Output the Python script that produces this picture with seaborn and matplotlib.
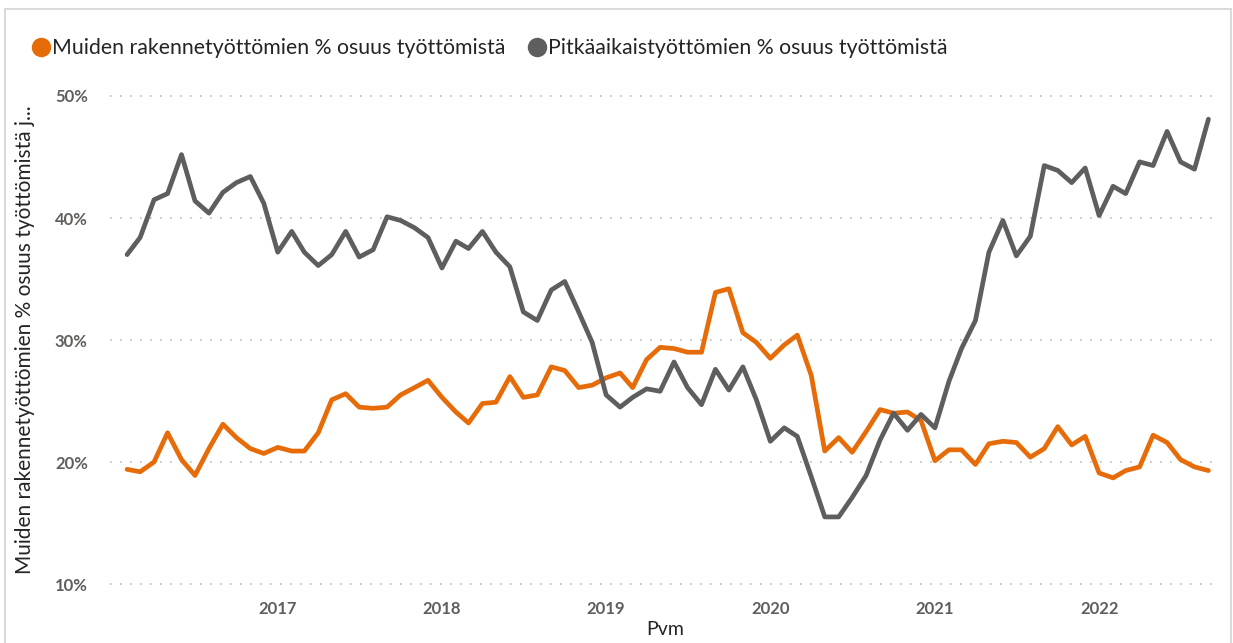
import seaborn as sns
import pandas as pd
import numpy as np
import matplotlib.pyplot as plt
import matplotlib.dates as mdates
from matplotlib.patches import Rectangle
from matplotlib.lines import Line2D
from matplotlib.ticker import FuncFormatter

# Kuukausittaiset arvot, helmikuu 2016 - syyskuu 2022
months = pd.date_range("2016-02-01", "2022-09-01", freq="MS")

muiden = [19.4, 19.2, 20.0, 22.4, 20.2, 18.9, 21.1, 23.1, 22.0, 21.1,
          20.7, 21.2, 20.9, 20.9, 22.4, 25.1, 25.6, 24.5, 24.4, 24.5,
          25.5, 26.1, 26.7, 25.3, 24.1, 23.2, 24.8, 24.9, 27.0, 25.3,
          25.5, 27.8, 27.5, 26.1, 26.3, 26.9, 27.3, 26.1, 28.4, 29.4,
          29.3, 29.0, 29.0, 33.9, 34.2, 30.6, 29.8, 28.5, 29.6, 30.4,
          27.1, 20.9, 22.0, 20.8, 22.5, 24.3, 24.0, 24.1, 23.4, 20.1,
          21.0, 21.0, 19.8, 21.5, 21.7, 21.6, 20.4, 21.1, 22.9, 21.4,
          22.1, 19.1, 18.7, 19.3, 19.6, 22.2, 21.6, 20.2, 19.6, 19.3]

pitkaaikais = [37.0, 38.4, 41.5, 42.0, 45.2, 41.4, 40.4, 42.1, 42.9, 43.4,
               41.2, 37.2, 38.9, 37.2, 36.1, 37.0, 38.9, 36.8, 37.4, 40.1,
               39.8, 39.2, 38.4, 35.9, 38.1, 37.5, 38.9, 37.2, 36.0, 32.3,
               31.6, 34.1, 34.8, 32.3, 29.8, 25.5, 24.5, 25.3, 26.0, 25.8,
               28.2, 26.1, 24.7, 27.6, 25.9, 27.8, 25.1, 21.7, 22.8, 22.1,
               18.8, 15.5, 15.5, 17.1, 18.9, 21.8, 24.0, 22.6, 23.9, 22.8,
               26.6, 29.3, 31.6, 37.2, 39.8, 36.9, 38.5, 44.3, 43.9, 42.9,
               44.1, 40.2, 42.6, 42.0, 44.6, 44.3, 47.1, 44.6, 44.0, 48.1]

year_ticks = [2017, 2018, 2019, 2020, 2021, 2022]

series_names = ["Muiden rakennetyöttömien % osuus työttömistä",
                "Pitkäaikaistyöttömien % osuus työttömistä"]
colors = ["#E66C0A", "#5E5E5E"]

df = pd.DataFrame({"Pvm": months,
                   series_names[0]: muiden,
                   series_names[1]: pitkaaikais})
long_df = df.melt(id_vars="Pvm", var_name="Sarja", value_name="Osuus")

sns.set_style("white")
plt.rcParams["font.family"] = ["Lato", "DejaVu Sans"]

fig = plt.figure(figsize=(12.33, 6.43), dpi=100)
ax = fig.add_axes([0.0892, 0.0824, 0.9, 0.7776])

sns.lineplot(data=long_df, x="Pvm", y="Osuus", hue="Sarja",
             palette=dict(zip(series_names, colors)),
             linewidth=3.4, legend=False, ax=ax)

# akselit
ax.set_ylim(9.51, 50.49)
ax.set_yticks([10, 20, 30, 40, 50])
ax.yaxis.set_major_formatter(FuncFormatter(lambda v, p: f"{v:.0f}%"))
ax.set_xlim(pd.Timestamp("2015-12-25"), pd.Timestamp("2022-09-26"))
ax.set_xticks([pd.Timestamp(f"{y}-01-01") for y in year_ticks])
ax.set_xticklabels([str(y) for y in year_ticks])

ax.grid(axis="y", color="#BDBDBD", linestyle=(0, (1, 5)), linewidth=1.2)
ax.grid(axis="x", visible=False)
for s in ax.spines.values():
    s.set_visible(False)
ax.tick_params(axis="both", length=0, labelsize=12, labelcolor="#605E5C")
ax.tick_params(axis="y", pad=16)
ax.tick_params(axis="x", pad=8)
for lab in ax.get_xticklabels() + ax.get_yticklabels():
    lab.set_fontweight("bold")

ax.set_xlabel("Pvm", fontsize=14, color="#252423", labelpad=3)
ax.set_ylabel("Muiden rakennetyöttömien % osuus työttömistä j...",
              fontsize=15, color="#252423")
ax.yaxis.set_label_coords(-0.068, 0.5)

# selite
handles = [Line2D([0], [0], marker="o", linestyle="", markersize=13,
                  markerfacecolor=c, markeredgecolor=c) for c in colors]
fig.legend(handles, series_names, loc="upper left", ncol=2,
           bbox_to_anchor=(0.008, 0.97), frameon=False, fontsize=15.3,
           handletextpad=0.0, columnspacing=0.9, handlelength=1.1,
           labelcolor="#252423")

# kehys
fig.patches.append(Rectangle((0.004, -0.01), 0.994, 0.996,
                             transform=fig.transFigure, fill=False,
                             edgecolor="#DADADA", linewidth=1.5))

plt.savefig("out.png", dpi=100)
